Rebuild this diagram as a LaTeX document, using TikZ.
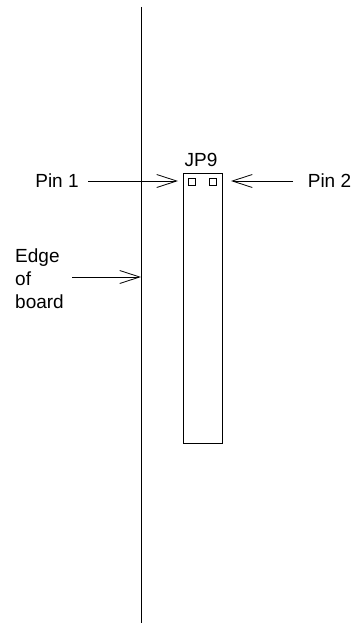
\documentclass[tikz,border=0pt]{standalone}
\usepackage{fontspec}
\setmainfont{Liberation Sans}
\usetikzlibrary{arrows.meta}

\begin{document}
\begin{tikzpicture}[x=1pt,y=-1pt,
    lbl/.style={font=\fontsize{19}{23}\selectfont, inner sep=0pt},
    pointer/.style={line width=0.8pt, -{Straight Barb[length=20pt,width=13pt,line width=0.8pt]}}]
  \useasboundingbox (0,0) rectangle (357,623);
  % board edge
  \draw[line width=1pt] (141,7) -- (141,623);
  % jumper
  \draw[line width=0.8pt] (183,173) rectangle (222,443);
  \draw[line width=0.8pt] (188,178) rectangle (195,185);
  \draw[line width=0.8pt] (209,178) rectangle (216,185);
  \node[lbl, anchor=base] (jp) at (201,166) {JP9};
  % labels
  \node[lbl, anchor=base] (pinA) at (57,187) {Pin 1};
  \node[lbl, anchor=base] (pinB) at (329.5,187) {Pin 2};
  \node[lbl, anchor=north west, align=left] (edge) at (15,249) {Edge\\of\\board};
  \coordinate (pinAtail) at (88,181);
  \coordinate (pinAtip) at (178,181);
  \coordinate (pinBtail) at (293,181);
  \coordinate (pinBtip) at (231,181);
  \coordinate (edgetail) at (72,277);
  \coordinate (edgetip) at (141,277);
  % arrows
  \draw[pointer] (pinAtail) -- (pinAtip);
  \draw[pointer] (pinBtail) -- (pinBtip);
  \draw[pointer] (edgetail) -- (edgetip);
\end{tikzpicture}
\end{document}
